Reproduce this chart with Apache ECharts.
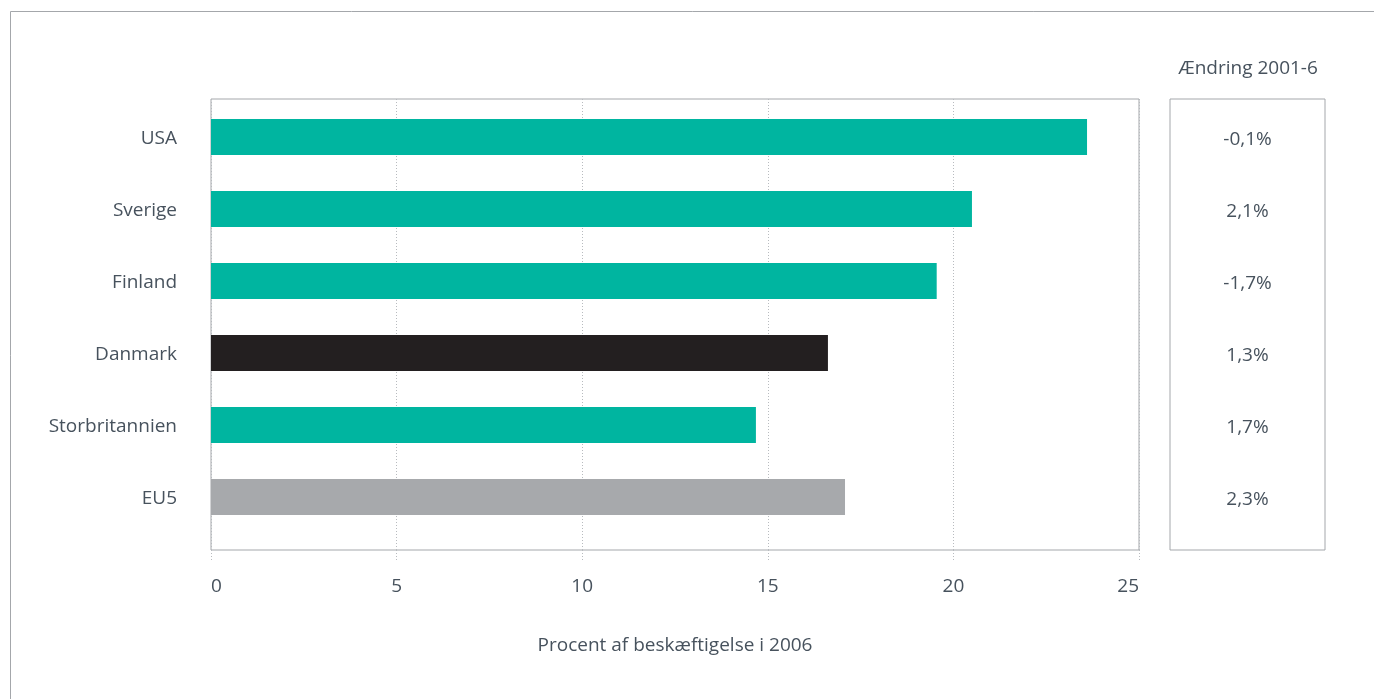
<!DOCTYPE html>
<html>
<head>
<meta charset="utf-8">
<style>
html,body{margin:0;padding:0;background:#fff;}
#chart{width:1374px;height:699px;}
</style>
<script src="https://cdn.jsdelivr.net/npm/echarts@6/dist/echarts.min.js"></script>
</head>
<body>
<div id="chart"></div>
<script>
const categories = ['USA', 'Sverige', 'Finland', 'Danmark', 'Storbritannien', 'EU5'];
const shares2006 = [23.6, 20.5, 19.55, 16.62, 14.68, 17.08];
const change2001to6 = [-0.1, 2.1, -1.7, 1.3, 1.7, 2.3];
const barColors = ['#00b5a0', '#00b5a0', '#00b5a0', '#231f20', '#00b5a0', '#a7a9ac'];
const xTicks = { min: 0, max: 25, interval: 5 };
const xAxisTitle = 'Procent af beskæftigelse i 2006';
const changeTitle = 'Ændring 2001-6';

const FONT = '"Open Sans"';
const FS = 19;
const TXT = '#47525d';
const LINE = '#a4a7ab';

const chart = echarts.init(document.getElementById('chart'), null, { renderer: 'canvas' });

const option = {
  animation: false,
  backgroundColor: '#fff',
  textStyle: { fontFamily: FONT, color: TXT },
  graphic: [
    {
      type: 'rect', silent: true,
      shape: { x: 10.5, y: 11.5, width: 1400, height: 800 },
      style: { fill: 'none', stroke: LINE, lineWidth: 1 }
    },
    {
      type: 'text', x: 1248, y: 69,
      style: { text: changeTitle, font: FS + 'px ' + FONT, fill: TXT, align: 'center', verticalAlign: 'middle' }
    }
  ],
  grid: [
    { left: 211, top: 101, width: 928, height: 432, show: false },
    { left: 211, top: 99, width: 928, height: 451, show: true, borderColor: LINE, borderWidth: 1, backgroundColor: 'transparent' },
    { left: 1170, top: 99, width: 155, height: 451, show: true, borderColor: LINE, borderWidth: 1, backgroundColor: 'transparent' },
    { left: 1170, top: 104, width: 155, height: 432, show: false },
    { left: 211, top: 103, width: 928, height: 432, show: false }
  ],
  xAxis: [
    { gridIndex: 0, type: 'value', min: xTicks.min, max: xTicks.max, interval: xTicks.interval, show: false },
    {
      gridIndex: 1, type: 'value', min: xTicks.min, max: xTicks.max, interval: xTicks.interval,
      axisLine: { show: false },
      axisTick: { show: true, length: 11, lineStyle: { color: '#b8bbbf', type: [1, 2] } },
      splitLine: { show: true, lineStyle: { color: '#b8bbbf', type: [1, 2] } },
      axisLabel: { margin: 27, fontSize: FS, color: TXT, fontFamily: FONT, alignMinLabel: 'left', alignMaxLabel: 'right' },
      name: xAxisTitle, nameLocation: 'middle', nameGap: 86,
      nameTextStyle: { fontSize: FS, color: TXT, fontFamily: FONT }
    },
    { gridIndex: 2, type: 'value', show: false, min: 0, max: 1 },
    { gridIndex: 3, type: 'value', show: false, min: 0, max: 1 },
    { gridIndex: 4, type: 'value', show: false, min: 0, max: 1 }
  ],
  yAxis: [
    { gridIndex: 0, type: 'category', data: categories, inverse: true, show: false },
    { gridIndex: 1, type: 'value', show: false },
    { gridIndex: 2, type: 'value', show: false },
    { gridIndex: 3, type: 'category', data: categories, inverse: true, show: false },
    {
      gridIndex: 4, type: 'category', data: categories, inverse: true,
      axisLine: { show: false }, axisTick: { show: false }, splitLine: { show: false },
      axisLabel: { margin: 34, fontSize: FS, color: TXT, fontFamily: FONT }
    }
  ],
  series: [
    {
      type: 'bar', xAxisIndex: 0, yAxisIndex: 0, barWidth: 36,
      data: shares2006.map((v, i) => ({ value: v, itemStyle: { color: barColors[i] } }))
    },
    {
      type: 'scatter', xAxisIndex: 3, yAxisIndex: 3, symbolSize: 0,
      itemStyle: { color: TXT, opacity: 1 },
      data: change2001to6.map((v, i) => ({ value: [0.5, categories[i]], change: v })),
      label: {
        show: true, position: 'inside', fontSize: FS, color: TXT, fontFamily: FONT,
        textBorderWidth: 0,
        formatter: p => p.data.change.toFixed(1).replace('.', ',') + '%'
      }
    }
  ]
};
chart.setOption(option);
</script>
</body>
</html>
